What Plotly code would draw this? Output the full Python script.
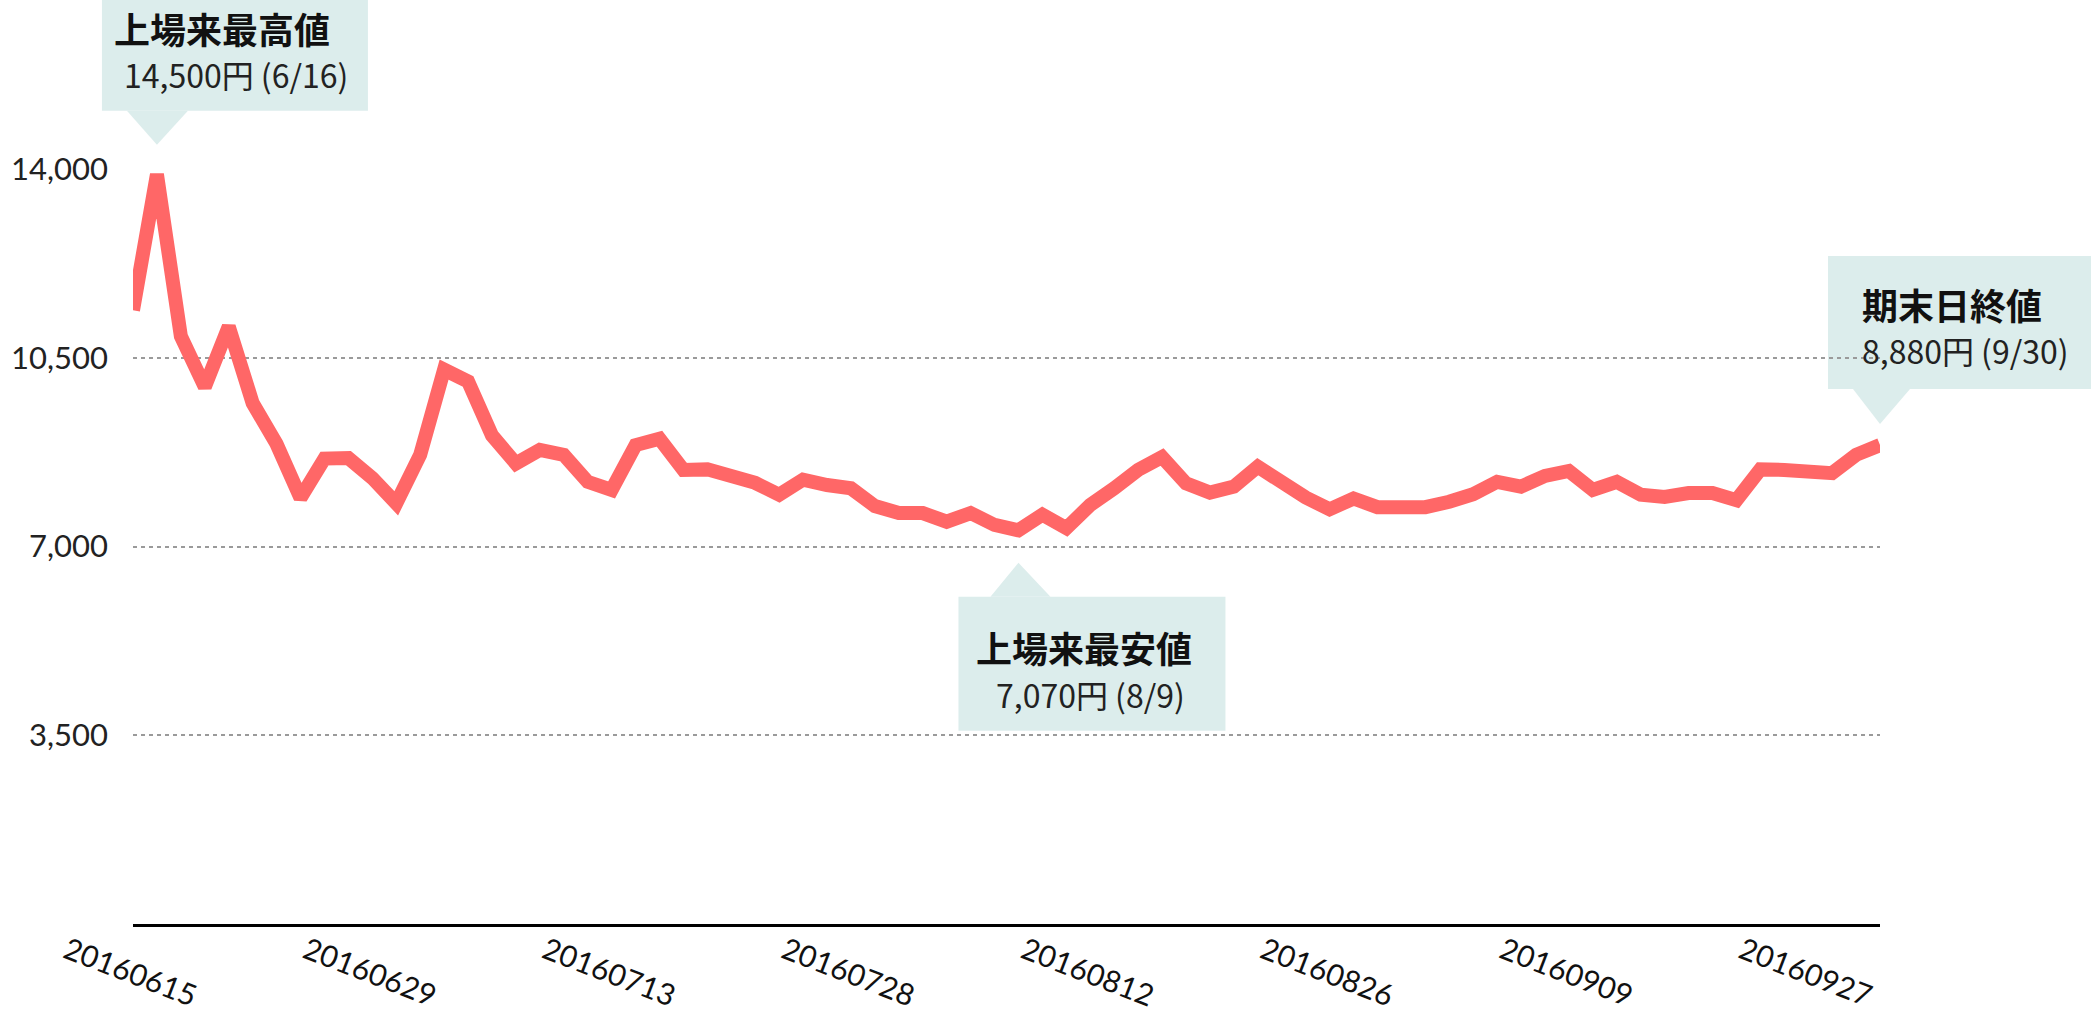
import plotly.graph_objects as go

# ---------------- data ----------------
dates = [
    "20160615", "20160616", "20160617", "20160620", "20160621", "20160622", "20160623", "20160624",
    "20160627", "20160628", "20160629", "20160630",
    "20160701", "20160704", "20160705", "20160706", "20160707", "20160708", "20160711", "20160712",
    "20160713", "20160714", "20160715", "20160719", "20160720", "20160721", "20160722", "20160725",
    "20160726", "20160727", "20160728", "20160729",
    "20160801", "20160802", "20160803", "20160804", "20160805", "20160808", "20160809", "20160810",
    "20160812", "20160815", "20160816", "20160817", "20160818", "20160819", "20160822", "20160823",
    "20160824", "20160825", "20160826", "20160829", "20160830", "20160831",
    "20160901", "20160902", "20160905", "20160906", "20160907", "20160908", "20160909", "20160912",
    "20160913", "20160914", "20160915", "20160916", "20160920", "20160921", "20160923", "20160926",
    "20160927", "20160928", "20160929", "20160930",
]
close = [
    11380, 13900, 10900, 9960, 11080, 9660, 8900, 7900, 8630, 8640,
    8270, 7800, 8700, 10280, 10060, 9060, 8540, 8790, 8700, 8200,
    8050, 8880, 9000, 8420, 8430, 8310, 8180, 7960, 8240, 8140,
    8080, 7750, 7620, 7620, 7460, 7620, 7400, 7300, 7590, 7340,
    7770, 8080, 8420, 8660, 8170, 8000, 8110, 8480, 8170, 7910,
    7690, 7890, 7730, 7730, 7730, 7830, 7970, 8200, 8110, 8310,
    8400, 8050, 8200, 7960, 7920, 7990, 7990, 7860, 8430, 8420,
    8400, 8360, 8700, 8880,
]
x_tick_labels = dates[::10]
y_tick_values = [3500, 7000, 10500, 14000]
y_tick_labels = ["3,500", "7,000", "10,500", "14,000"]

# callouts: title, sub text, index of pointed date, value the pointer tip marks
callout_titles = ["上場来最高値", "上場来最安値", "期末日終値"]
callout_subs = ["14,500円 (6/16)", "7,070円 (8/9)", "8,880円 (9/30)"]
callout_index = [1, 37, 73]
callout_tip_value = [14450, 6700, 9270]

# ---------------- layout constants ----------------
W, H = 2091, 1013
ML, MR, MT, MB = 133, 211, 169, 89
Y_MAX = 14000
X_MAX = len(dates) - 1
LINE_COLOR = "#ff6767"
BOX_COLOR = "#dcedec"
CJK = "Noto Sans CJK JP"
NUM_FONT = "Lato"

fig = go.Figure()
fig.add_trace(go.Scatter(
    x=dates, y=close, mode="lines",
    line=dict(color=LINE_COLOR, width=14),
    hoverinfo="skip", showlegend=False,
))

# callout geometry (pixels, relative to pointer tip; y positive = up)
geom = [
    dict(bx=(-55, 211), by=(34, 175), tb=(-30, 31), base=34, title=(-45, 117), sub=(-35, 71)),
    dict(bx=(-60, 207), by=(-168, -34), tb=(-28, 32), base=-34, title=(-44, -84), sub=(-24, -131)),
    dict(bx=(-52, 215), by=(35, 168), tb=(-27, 30), base=35, title=(-20, 120), sub=(-20, 74)),
]

shapes = []
annotations = []
for i in range(len(callout_titles)):
    g = geom[i]
    ax = callout_index[i] / X_MAX
    ay = callout_tip_value[i] / Y_MAX
    common = dict(xref="paper", yref="paper", xsizemode="pixel", ysizemode="pixel",
                  xanchor=ax, yanchor=ay, fillcolor=BOX_COLOR, line=dict(width=0), layer="below")
    shapes.append(dict(type="rect", x0=g["bx"][0], x1=g["bx"][1], y0=g["by"][0], y1=g["by"][1], **common))
    path = f"M {g['tb'][0]},{g['base']} L 0,0 L {g['tb'][1]},{g['base']} Z"
    shapes.append(dict(type="path", path=path, **common))
    annotations.append(dict(
        xref="paper", yref="paper", x=ax, y=ay, xanchor="left", yanchor="middle",
        xshift=g["title"][0], yshift=g["title"][1], showarrow=False,
        text="<b>" + callout_titles[i] + "</b>",
        font=dict(family=CJK, size=36, color="#111111"),
    ))
    annotations.append(dict(
        xref="paper", yref="paper", x=ax, y=ay, xanchor="left", yanchor="middle",
        xshift=g["sub"][0], yshift=g["sub"][1], showarrow=False,
        text=callout_subs[i],
        font=dict(family=CJK, size=32, color="#222222"),
    ))

fig.update_layout(
    width=W, height=H, autosize=False,
    margin=dict(l=ML, r=MR, t=MT, b=MB, pad=0),
    paper_bgcolor="white", plot_bgcolor="white",
    shapes=shapes, annotations=annotations,
    hovermode=False,
)
fig.update_xaxes(
    type="category", range=[0, X_MAX], automargin=False,
    tickmode="array", tickvals=x_tick_labels, ticktext=x_tick_labels,
    tickangle=21, tickfont=dict(family=NUM_FONT, size=30, color="#111111"),
    ticklabelshift=-66, ticklabelstandoff=-5,
    showgrid=False, zeroline=False,
    showline=True, linecolor="#000000", linewidth=3, ticks="",
)
fig.update_yaxes(
    range=[0, Y_MAX], automargin=False,
    tickmode="array", tickvals=y_tick_values, ticktext=y_tick_labels,
    tickfont=dict(family=NUM_FONT, size=31, color="#222222"),
    showgrid=True, gridcolor="#9a9a9a", gridwidth=2, griddash="4px,4px",
    zeroline=False, showline=False, ticks="", ticklabelstandoff=24,
)

fig.write_html(
    "out.html",
    config={"displayModeBar": False},
    post_script="document.body.style.margin='0';document.body.style.overflow='hidden';",
)
